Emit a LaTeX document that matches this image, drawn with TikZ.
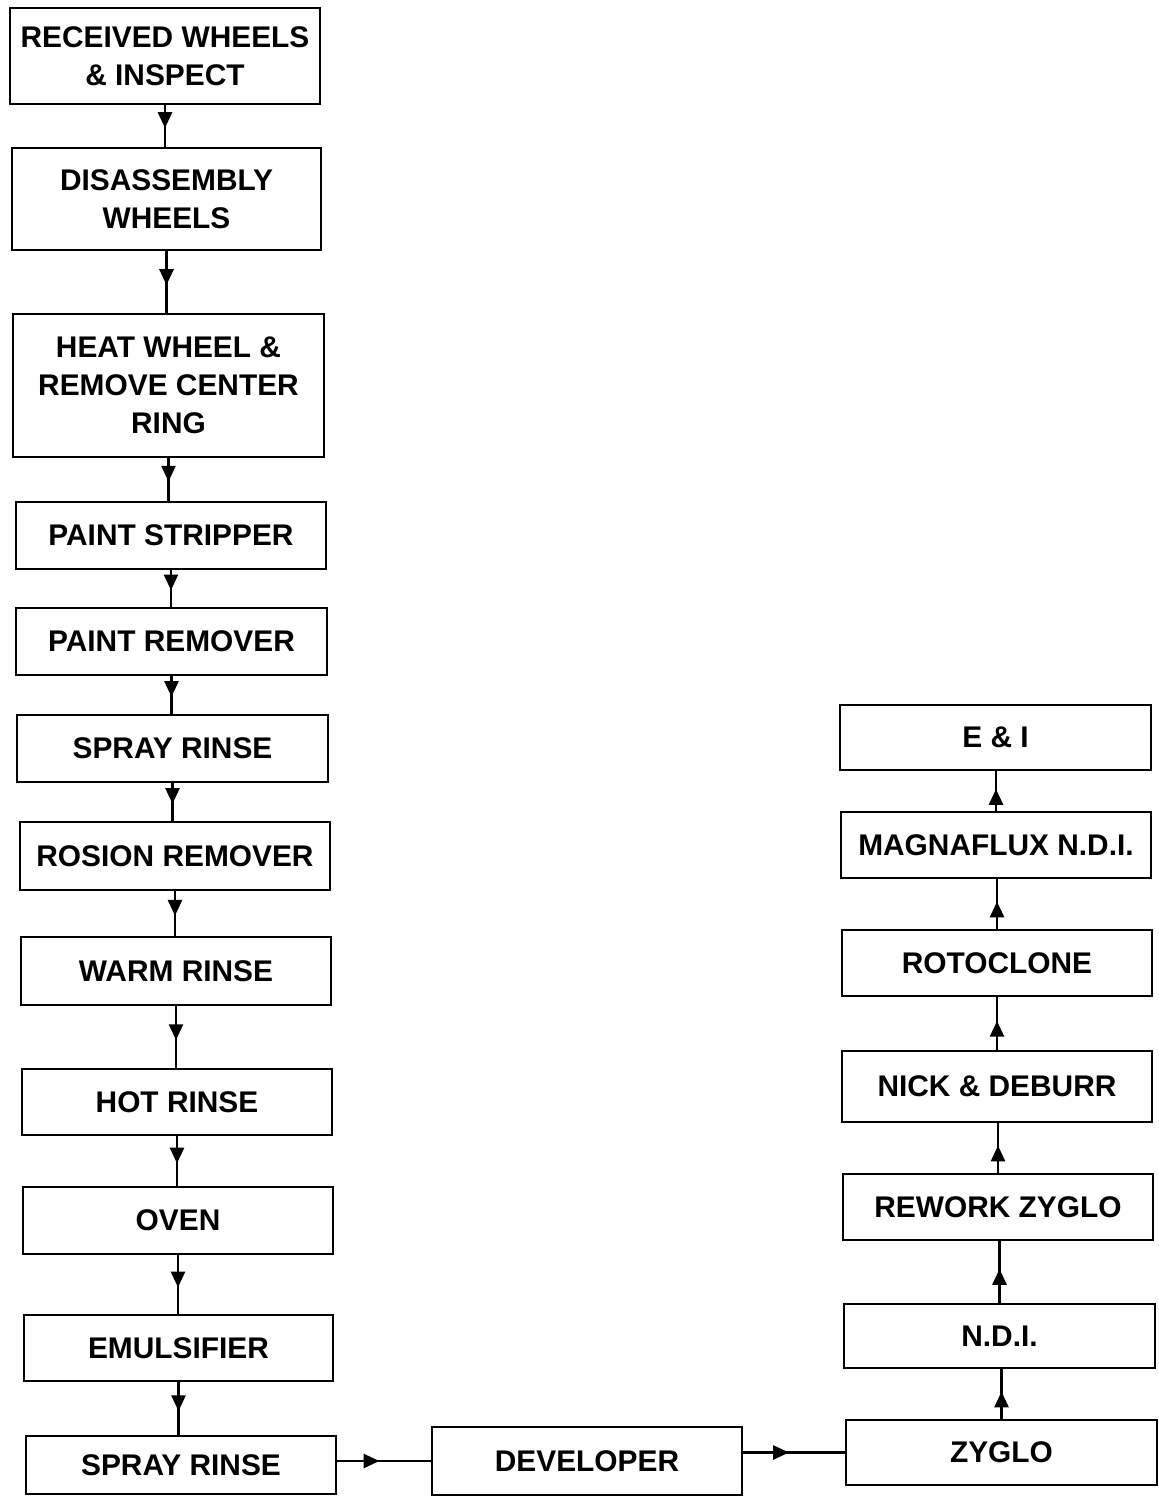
\documentclass[tikz,border=0pt]{standalone}
\usepackage{fontspec}
\setmainfont{Liberation Sans}
\usetikzlibrary{arrows.meta,decorations.markings}
\newcommand\stepnode[6]{\node[box, minimum width={(#4-#2)*0.02cm}, minimum height={(#5-#3)*0.02cm}] (#1) at ({(#2+#4)/2},{(#3+#5)/2}) {#6};}
\tikzset{
  box/.style={draw, line width=1.6pt, inner sep=0pt, align=center,
    font={\fontsize{17}{21.5}\selectfont\bfseries}},
  flow/.style={line width=1.4pt, postaction={decorate},
    decoration={markings, mark=at position #1 with {\arrow{Triangle[width=8pt,length=9pt]}}}},
  flow/.default=0.55
}
\begin{document}
\begin{tikzpicture}[x=0.02cm,y=-0.02cm]
\useasboundingbox (0,0) rectangle (1159,1497);
\stepnode{a1}{10}{8}{320}{104}{RECEIVED WHEELS\\\& INSPECT}
\stepnode{a2}{12}{148}{321}{250}{DISASSEMBLY\\WHEELS}
\stepnode{a3}{13}{314}{324}{457}{HEAT WHEEL \&\\REMOVE CENTER\\RING}
\stepnode{a4}{16}{502}{326}{569}{PAINT STRIPPER}
\stepnode{a5}{16}{608}{327}{675}{PAINT REMOVER}
\stepnode{a6}{17}{715}{328}{782}{SPRAY RINSE}
\stepnode{a7}{20}{822}{330}{890}{ROSION REMOVER}
\stepnode{a8}{21}{937}{331}{1005}{WARM RINSE}
\stepnode{a9}{22}{1069}{332}{1135}{HOT RINSE}
\stepnode{a10}{23}{1187}{333}{1254}{OVEN}
\stepnode{a11}{24}{1315}{333}{1381}{EMULSIFIER}
\stepnode{a12}{26}{1436}{336}{1494}{SPRAY RINSE}
\stepnode{dev}{432}{1427}{742}{1495}{DEVELOPER}
\stepnode{zyg}{846}{1420}{1157}{1485}{ZYGLO}
\stepnode{ndi}{844}{1304}{1155}{1368}{N.D.I.}
\stepnode{rz}{843}{1174}{1153}{1240}{REWORK ZYGLO}
\stepnode{nd}{842}{1051}{1152}{1122}{NICK \& DEBURR}
\stepnode{roto}{842}{930}{1152}{996}{ROTOCLONE}
\stepnode{mag}{841}{812}{1151}{878}{MAGNAFLUX N.D.I.}
\stepnode{ei}{840}{705}{1151}{770}{E \& I}
\foreach \u/\v in {a1/a2,a2/a3,a3/a4,a4/a5,a5/a6,a6/a7,a7/a8,a8/a9,a9/a10,a10/a11,a11/a12}
  \draw[flow] (\u.south) -- (\u.south |- \v.north);
\foreach \u/\v in {zyg/ndi,ndi/rz,rz/nd,nd/roto,roto/mag,mag/ei}
  \draw[flow] (\u.north) -- (\u.north |- \v.south);
\draw[flow=0.45] (a12.east |- dev.west) -- (dev.west);
\draw[flow=0.45] (dev.east |- zyg.west) -- (zyg.west);
\end{tikzpicture}
\end{document}
